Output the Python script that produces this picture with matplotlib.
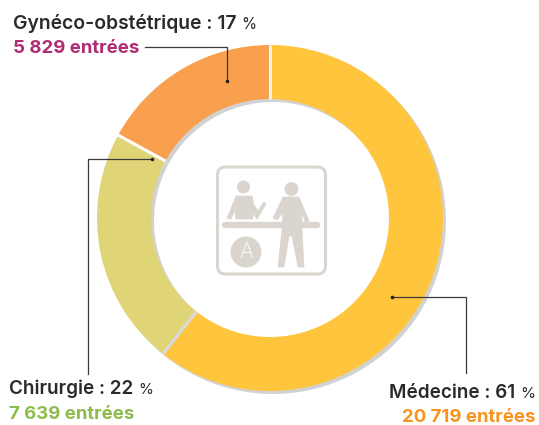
import matplotlib
matplotlib.use("Agg")
import matplotlib.pyplot as plt
import numpy as np
from matplotlib.patches import Circle, FancyBboxPatch, Polygon

categories = ["Médecine", "Chirurgie", "Gynéco-obstétrique"]
entries = [20719, 7639, 5829]
percents = [61, 22, 17]
entry_labels = ["20 719 entrées", "7 639 entrées", "5 829 entrées"]
colors = ["#FFC53D", "#DFD577", "#F9A04F"]
text_colors = ["#F7941E", "#8DBB4C", "#AE2C74"]

W, H = 539, 425
plt.rcParams["font.family"] = ["Inter", "DejaVu Sans"]
fig = plt.figure(figsize=(W / 100, H / 100), dpi=100)
ax = fig.add_axes([0, 0, 1, 1])
def Y(y):
    return H - y

CX, CY, R, HOLE = 270, 218, 173, 119
ax.pie(entries, radius=R, center=(CX + 3, Y(CY + 3)), startangle=90, counterclock=False,
       colors=["#D2D2D2"] * 3, wedgeprops=dict(width=R - HOLE), frame=True)
ax.pie(entries, radius=R, center=(CX, Y(CY)), startangle=90, counterclock=False,
       colors=colors, wedgeprops=dict(width=R - HOLE), frame=True)
# slice separators, at the boundaries given by the data
fractions = np.cumsum(entries) / np.sum(entries)
sep_colors = ["#DADADA", "white", "#F2F2F2"]
for frac, sc in zip(fractions, sep_colors):
    a = np.pi / 2 - 2 * np.pi * frac
    ax.plot([CX + HOLE * np.cos(a), CX + (R + 0.5) * np.cos(a)],
            [Y(CY) + HOLE * np.sin(a), Y(CY) + (R + 0.5) * np.sin(a)],
            color=sc, lw=2.2, solid_capstyle="butt", zorder=3)

ax.set_xlim(0, W)
ax.set_ylim(0, H)
ax.set_aspect("equal")
ax.axis("off")

# leader lines
LC = "#3A3A3A"
def leader(xs, ys, dot):
    ax.plot(xs, [Y(v) for v in ys], color=LC, lw=0.9, solid_joinstyle="miter", zorder=5)
    ax.plot([dot[0]], [Y(dot[1])], "o", color="#222222", ms=2.6, mew=0, zorder=6)
leader([145, 226.5, 226.5], [46.5, 46.5, 80.5], (226.5, 80.5))
leader([88, 88, 152], [374, 159, 159], (152, 159))
leader([392, 466, 466], [296.5, 296.5, 373], (392, 296.5))

# labels
DARK = "#2A2A2C"
FS = 13.6
renderer = fig.canvas.get_renderer()
def label(x, y, cat, pct, ha="left", fs=FS):
    t = ax.text(x, Y(y), f"{cat} : {pct} ", fontsize=fs, fontweight="semibold", color=DARK,
                ha="left", va="baseline", zorder=7)
    p = ax.text(x, Y(y), "%", fontsize=fs * 0.8, color=DARK, ha="left", va="baseline", zorder=7)
    tw = t.get_window_extent(renderer).width
    pw = p.get_window_extent(renderer).width
    if ha == "right":
        t.set_x(x - pw - tw)
        p.set_x(x - pw)
    else:
        p.set_x(x + tw)
label(13, 29, categories[2], percents[2], fs=13.9)
ax.text(13, Y(53), entry_labels[2], fontsize=13.4, fontweight="bold", color=text_colors[2], va="baseline")
label(9, 394, categories[1], percents[1])
ax.text(9, Y(419), entry_labels[1], fontsize=13.4, fontweight="bold", color=text_colors[1], va="baseline")
label(535, 398, categories[0], percents[0], ha="right")
ax.text(535, Y(422), entry_labels[0], fontsize=13.4, fontweight="bold", color=text_colors[0], va="baseline", ha="right")

# central icon
IC = "#DAD5CE"
ax.add_patch(FancyBboxPatch((217.5, Y(274)), 108, 107, boxstyle="round,pad=0,rounding_size=8",
                            fc="none", ec=IC, lw=2.2, zorder=4))
def poly(pts):
    ax.add_patch(Polygon([(x, Y(y)) for x, y in pts], closed=True, fc=IC, ec=IC, lw=0.5, zorder=4))
ax.add_patch(Circle((243.5, Y(187)), 6.5, fc=IC, ec="none", zorder=4))
ax.add_patch(Circle((291.5, Y(189)), 7, fc=IC, ec="none", zorder=4))
# desk
ax.plot([225, 317], [Y(224.5), Y(224.5)], color=IC, lw=4.5, solid_capstyle="round", zorder=4)
# seated person
poly([(236, 196), (252, 196), (254, 205), (258, 211), (264, 202), (266, 204), (257, 219), (253, 213), (253, 219),
      (236, 219), (235, 210), (231, 219), (227, 218)])
# standing person
poly([(283, 197), (299, 197), (309, 221), (305, 222), (302, 212), (302, 230), (304, 267), (298, 267), (292, 236),
      (289, 236), (284, 267), (278, 267), (282, 230), (283, 212), (277, 220), (273, 218)])
# letter disk
ax.add_patch(Circle((246, Y(252)), 15.5, fc=IC, ec="none", zorder=4))
ax.text(246, Y(252), "A", color="white", fontsize=15, ha="center", va="center", zorder=5, fontweight="light")

fig.savefig("out.png", dpi=100)
